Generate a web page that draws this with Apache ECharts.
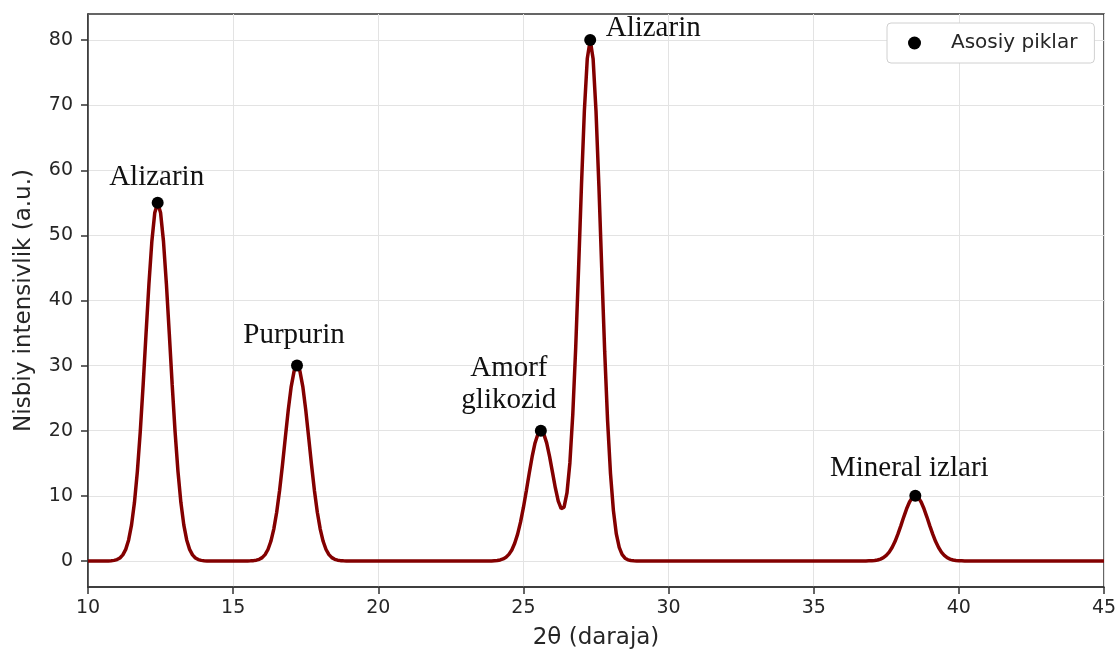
<!DOCTYPE html>
<html>
<head>
<meta charset="utf-8">
<script src="https://cdn.jsdelivr.net/npm/echarts@6/dist/echarts.min.js"></script>
<style>
html,body{margin:0;padding:0;background:#fff;}
#chart{width:1117px;height:652px;}
</style>
</head>
<body>
<div id="chart"></div>
<script>
// 2θ sample positions (degrees)
const twoTheta = [
  10.0, 10.7,
  10.8, 10.9, 11.0, 11.1, 11.2, 11.3, 11.4, 11.5, 11.6, 11.7, 11.8, 11.9, 12.0, 12.1, 12.2, 12.3, 12.4,
  12.5, 12.6, 12.7, 12.8, 12.9, 13.0, 13.1, 13.2, 13.3, 13.4, 13.5, 13.6, 13.7, 13.8, 13.9, 14.0, 14.1,
  15.5,
  15.6, 15.7, 15.8, 15.9, 16.0, 16.1, 16.2, 16.3, 16.4, 16.5, 16.6, 16.7, 16.8, 16.9, 17.0, 17.1, 17.2,
  17.3, 17.4, 17.5, 17.6, 17.7, 17.8, 17.9, 18.0, 18.1, 18.2, 18.3, 18.4, 18.5, 18.6, 18.7, 18.8, 18.9,
  23.9,
  24.0, 24.1, 24.2, 24.3, 24.4, 24.5, 24.6, 24.7, 24.8, 24.9, 25.0, 25.1, 25.2, 25.3, 25.4, 25.5, 25.6,
  25.7, 25.8, 25.9, 26.0, 26.1, 26.2, 26.3, 26.4, 26.5, 26.6, 26.7, 26.8, 26.9, 27.0, 27.1, 27.2, 27.3,
  27.4, 27.5, 27.6, 27.7, 27.8, 27.9, 28.0, 28.1, 28.2, 28.3, 28.4, 28.5, 28.6, 28.7, 28.8, 28.9,
  36.8,
  36.9, 37.0, 37.1, 37.2, 37.3, 37.4, 37.5, 37.6, 37.7, 37.8, 37.9, 38.0, 38.1, 38.2, 38.3, 38.4, 38.5,
  38.6, 38.7, 38.8, 38.9, 39.0, 39.1, 39.2, 39.3, 39.4, 39.5, 39.6, 39.7, 39.8, 39.9, 40.0, 40.1, 40.2,
  45.0
];
// relative intensity (a.u.) read at each position
const intensity = [
  0, 0,
  0.04, 0.09, 0.21, 0.46, 0.93, 1.78, 3.23, 5.54, 8.97, 13.72, 19.83, 27.08, 34.95, 42.61, 49.10, 53.47, 55.00,
  53.47, 49.10, 42.61, 34.95, 27.08, 19.83, 13.72, 8.97, 5.54, 3.23, 1.78, 0.93, 0.46, 0.21, 0.09, 0.04, 0,
  0,
  0.02, 0.05, 0.12, 0.25, 0.51, 0.97, 1.76, 3.02, 4.89, 7.48, 10.82, 14.77, 19.06, 23.24, 26.78, 29.16, 30.00,
  29.16, 26.78, 23.24, 19.06, 14.77, 10.82, 7.48, 4.89, 3.02, 1.76, 0.97, 0.51, 0.25, 0.12, 0.05, 0.02, 0,
  0,
  0.04, 0.08, 0.16, 0.31, 0.57, 1.01, 1.69, 2.71, 4.12, 5.96, 8.22, 10.79, 13.47, 16.01, 18.12, 19.51, 20.00,
  19.52, 18.14, 16.07, 13.64, 11.21, 9.18, 8.04, 8.27, 10.44, 15.05, 22.49, 32.67, 44.91, 57.75, 69.21, 77.17, 80.00,
  77.14, 69.13, 57.59, 44.60, 32.10, 21.48, 13.36, 7.73, 4.15, 2.08, 0.96, 0.42, 0.17, 0.06, 0.02, 0,
  0,
  0.02, 0.04, 0.08, 0.15, 0.29, 0.50, 0.85, 1.35, 2.06, 2.98, 4.11, 5.39, 6.74, 8.01, 9.06, 9.76, 10.00,
  9.76, 9.06, 8.01, 6.74, 5.39, 4.11, 2.98, 2.06, 1.35, 0.85, 0.50, 0.29, 0.15, 0.08, 0.04, 0.02, 0,
  0
];
// main peaks
const peakPos = [12.4, 17.2, 25.6, 27.3, 38.5];
const peakInt = [55, 30, 20, 80, 10];
const peakNames = ['Alizarin', 'Purpurin', 'Amorf\nglikozid', 'Alizarin', 'Mineral izlari'];
// axis ticks
const xTicks = [10, 15, 20, 25, 30, 35, 40, 45];
const yTicks = [0, 10, 20, 30, 40, 50, 60, 70, 80];

// label placement (pixel offsets from each peak marker)
const labelOffsets = [[-1, -25], [-3, -30], [-32, -46], [63, -12], [-6, -27]];

const lineData = twoTheta.map((x, i) => [x, intensity[i]]);
const peakData = peakPos.map((x, i) => ({
  value: [x, peakInt[i]],
  label: {
    show: true,
    position: 'inside',
    formatter: peakNames[i],
    offset: labelOffsets[i]
  }
}));

const chart = echarts.init(document.getElementById('chart'), null, {renderer: 'canvas'});
const axisColor = '#333333';
const textColor = '#262626';
chart.setOption({
  animation: false,
  backgroundColor: '#ffffff',
  grid: {
    left: 88, right: 13, top: 14, bottom: 65,
    outerBoundsMode: 'none',
    containLabel: false,
    show: true, borderColor: axisColor, borderWidth: 1.5,
    backgroundColor: 'transparent'
  },
  legend: {
    data: ['Asosiy piklar'],
    left: 887, top: 23,
    orient: 'horizontal',
    backgroundColor: '#ffffff',
    borderColor: '#d0d0d0', borderWidth: 1, borderRadius: 4,
    padding: [10, 17, 10, 21],
    itemWidth: 13, itemHeight: 13,
    textStyle: { fontFamily: 'DejaVu Sans', fontSize: 20, color: textColor, padding: [0, 0, 0, 25] }
  },
  xAxis: {
    type: 'value',
    min: 10, max: 45, interval: 5,
    name: '2θ (daraja)',
    nameLocation: 'middle',
    nameGap: 40,
    nameTextStyle: { fontFamily: 'DejaVu Sans', fontSize: 23, color: textColor },
    axisLine: { show: true, onZero: false, lineStyle: { color: axisColor, width: 1.5 } },
    axisTick: { show: true, inside: false, length: 7, lineStyle: { color: axisColor, width: 1.5 } },
    axisLabel: { fontFamily: 'DejaVu Sans', fontSize: 19, color: textColor, margin: 12,
      customValues: xTicks },
    splitLine: { show: true, lineStyle: { color: '#e3e3e3', width: 1 } }
  },
  yAxis: {
    type: 'value',
    min: -4, max: 84,
    name: 'Nisbiy intensivlik (a.u.)',
    nameLocation: 'middle',
    nameGap: 52,
    nameTextStyle: { fontFamily: 'DejaVu Sans', fontSize: 23, color: textColor },
    axisLine: { show: true, onZero: false, lineStyle: { color: axisColor, width: 1.5 } },
    axisTick: { show: true, inside: false, length: 7, lineStyle: { color: axisColor, width: 1.5 },
      customValues: yTicks },
    axisLabel: { fontFamily: 'DejaVu Sans', fontSize: 19, color: textColor, margin: 15,
      customValues: yTicks },
    splitLine: { show: true, lineStyle: { color: '#e3e3e3', width: 1 } }
  },
  series: [
    {
      name: 'XRD',
      type: 'line',
      data: lineData,
      showSymbol: false,
      smooth: false,
      lineStyle: { color: '#830000', width: 3.5 },
      itemStyle: { color: '#830000' },
      z: 2
    },
    {
      name: 'Asosiy piklar',
      type: 'scatter',
      data: peakData,
      symbol: 'circle',
      symbolSize: 12,
      itemStyle: { color: '#000000', opacity: 1 },
      label: {
        show: true,
        fontFamily: 'Liberation Serif',
        fontSize: 29,
        color: '#111111',
        align: 'center',
        verticalAlign: 'middle',
        lineHeight: 32
      },
      z: 3
    }
  ]
});
</script>
</body>
</html>
